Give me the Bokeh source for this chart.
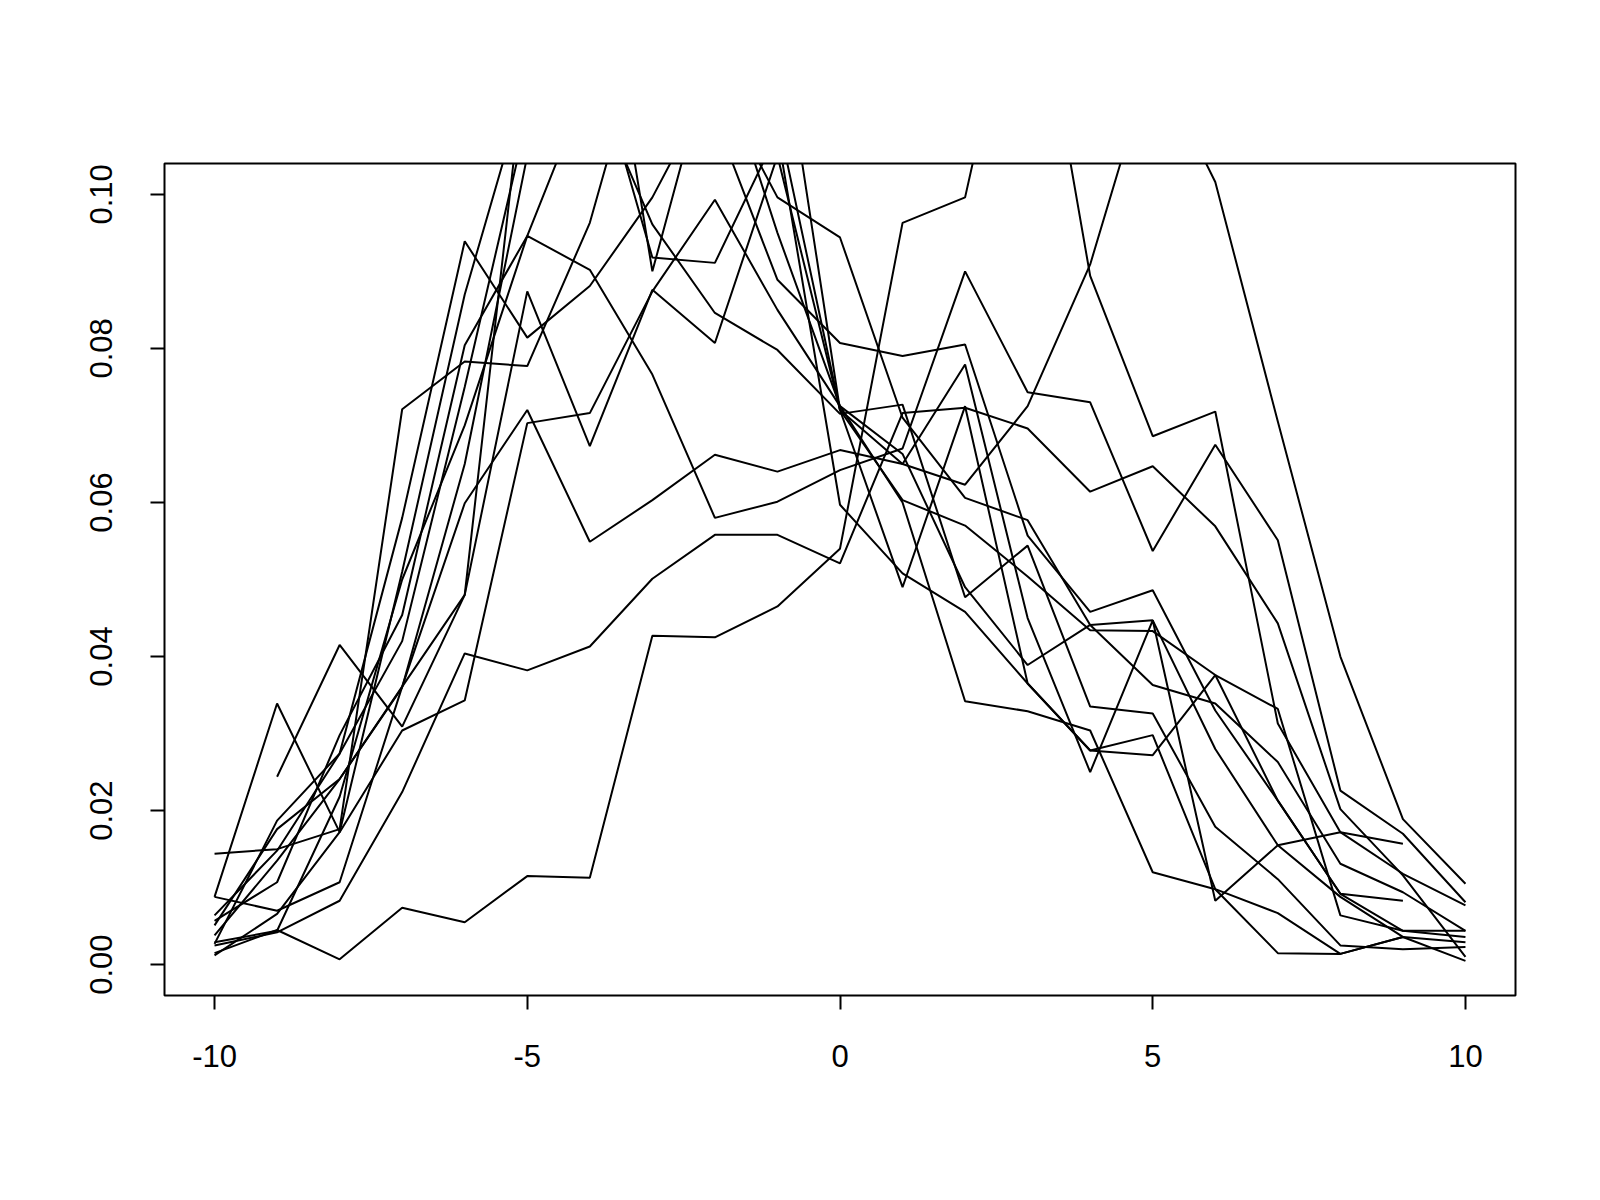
import numpy as np
from bokeh.plotting import figure
from bokeh.models import Range1d, FixedTicker, NumeralTickFormatter
from bokeh.embed import file_html
from bokeh.resources import INLINE

NA = float("nan")

x_values = list(range(-10, 11))
x_ticks = [-10, -5, 0, 5, 10]
x_tick_labels = ["-10", "-5", "0", "5", "10"]
y_ticks = [0.0, 0.02, 0.04, 0.06, 0.08, 0.10]

s01 = [0.0015, 0.0045, 0.0007, 0.0074, 0.0055, 0.0115, 0.0113, 0.0427, 0.0425, 0.0465, 0.0540,
       0.0963, 0.0996, 0.1360, 0.0894, 0.0686, 0.0718, 0.0313, 0.0172, 0.0157, NA]
s02 = [0.0025, 0.0042, 0.0083, 0.0224, 0.0404, 0.0382, 0.0413, 0.0501, 0.0558, 0.0558, 0.0521,
       0.0716, 0.0723, 0.0696, 0.0614, 0.0647, 0.0569, 0.0443, 0.0202, 0.0116, 0.0010]
s03 = [0.0038, 0.0135, 0.0241, 0.0361, 0.0599, 0.0720, 0.0549, 0.0603, 0.0662, 0.0640, 0.0668,
       0.0650, 0.0623, 0.0725, 0.0909, 0.1180, 0.1016, 0.0705, 0.0400, 0.0189, 0.0105]
s04 = [0.0057, 0.0107, 0.0298, 0.0454, 0.0804, 0.0946, 0.0902, 0.0766, 0.0580, 0.0601, 0.0642,
       0.0670, 0.0900, 0.0743, 0.0730, 0.0537, 0.0675, 0.0551, 0.0226, 0.0170, 0.0081]
s05 = [0.0064, 0.0148, 0.0274, 0.0580, 0.0939, 0.0814, 0.0881, 0.0996, 0.1150, 0.0996, 0.0944,
       0.0710, 0.0606, 0.0577, 0.0441, 0.0363, 0.0339, 0.0263, 0.0131, 0.0094, 0.0044]
s06 = [0.0144, 0.0150, 0.0176, 0.0721, 0.0783, 0.0777, 0.0963, 0.1250, 0.1100, 0.0889, 0.0807,
       0.0790, 0.0805, 0.0557, 0.0458, 0.0486, 0.0330, 0.0213, 0.0092, 0.0083, NA]
s07 = [0.0088, 0.0339, 0.0172, 0.0304, 0.0343, 0.0703, 0.0716, 0.0874, 0.0993, 0.0850, 0.0725,
       0.0663, 0.0490, 0.0389, 0.0441, 0.0447, 0.0280, 0.0155, 0.0088, 0.0036, NA]
s08 = [0.0088, 0.0070, 0.0107, 0.0361, 0.0480, 0.0874, 0.0673, 0.0876, 0.0807, 0.1050, 0.0720,
       0.0603, 0.0570, 0.0504, 0.0434, 0.0433, 0.0376, 0.0332, 0.0064, 0.0044, 0.0036]
s09 = [0.0029, 0.0044, 0.0218, 0.0500, 0.0700, 0.0946, 0.1150, 0.0961, 0.0846, 0.0798, 0.0715,
       0.0727, 0.0477, 0.0544, 0.0335, 0.0326, 0.0179, 0.0111, 0.0025, 0.0020, 0.0023]
s10 = [0.0051, 0.0176, 0.0241, 0.0360, 0.0650, 0.1050, 0.1200, 0.0918, 0.0911, 0.1080, 0.0597,
       0.0508, 0.0458, 0.0365, 0.0278, 0.0298, 0.0098, 0.0067, 0.0014, 0.0036, 0.0005]
s11 = [0.0012, 0.0066, 0.0172, 0.0510, 0.0870, 0.1150, 0.1350, 0.1300, 0.1200, 0.0950, 0.0725,
       0.0600, 0.0342, 0.0329, 0.0304, 0.0120, 0.0098, 0.0015, 0.0014, 0.0036, 0.0029]
s12 = [0.0027, 0.0187, 0.0274, 0.0420, 0.0750, 0.1100, 0.1300, 0.1500, 0.1400, 0.1100, 0.0720,
       0.0650, 0.0779, 0.0450, 0.0250, 0.0447, 0.0083, 0.0155, 0.0172, 0.0118, 0.0077]
s13 = [NA, 0.0244, 0.0415, 0.0309, 0.0480, 0.1200, 0.1400, 0.0900, 0.1200, 0.1250, 0.0720,
       0.0490, 0.0725, 0.0365, 0.0278, 0.0272, 0.0376, 0.0213, 0.0092, 0.0044, 0.0044]

series = [s01, s02, s03, s04, s05, s06, s07, s08, s09, s10, s11, s12, s13]

FONT = "Liberation Sans"

p = figure(width=1584, height=1182, output_backend="svg", toolbar_location=None,
           x_range=Range1d(-10.8, 10.8), y_range=Range1d(-0.004, 0.104),
           min_border_left=164, min_border_right=69, min_border_top=163, min_border_bottom=187)
p.background_fill_color = "white"
p.border_fill_color = "white"
p.xgrid.visible = False
p.ygrid.visible = False
p.outline_line_color = "black"
p.outline_line_width = 2

for s in series:
    p.line(x_values, s, line_color="black", line_width=2)

for ax in (p.xaxis[0], p.yaxis[0]):
    ax.axis_line_color = None
    ax.major_tick_in = 0
    ax.major_tick_out = 14
    ax.major_tick_line_width = 2
    ax.minor_tick_in = 0
    ax.minor_tick_out = 0
    ax.major_label_text_font = FONT
    ax.major_label_text_font_size = "31px"
    ax.major_label_text_color = "black"

p.xaxis.ticker = FixedTicker(ticks=x_ticks)
p.xaxis.major_label_overrides = {t: lab for t, lab in zip(x_ticks, x_tick_labels)}
p.yaxis.ticker = FixedTicker(ticks=y_ticks)
p.yaxis.formatter = NumeralTickFormatter(format="0.00")
p.yaxis.major_label_orientation = "vertical"
p.xaxis.major_label_standoff = 35
p.yaxis.major_label_standoff = 38

open("out.html", "w").write(file_html(p, INLINE))
